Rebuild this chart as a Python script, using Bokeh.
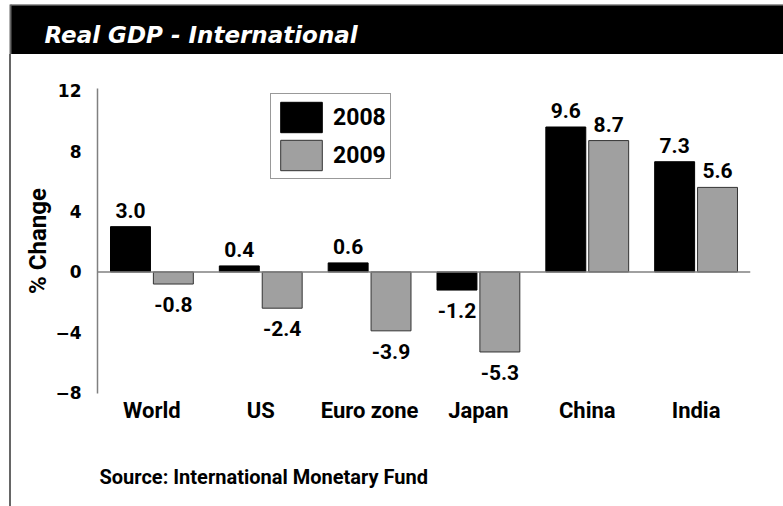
from bokeh.plotting import figure
from bokeh.layouts import column, row
from bokeh.models import (ColumnDataSource, FactorRange, Range1d, FixedTicker, Legend,
                          LegendItem, LabelSet, Span, Div)
from bokeh.transform import dodge
from bokeh.embed import file_html
from bokeh.resources import INLINE
from bokeh.core.properties import value

# ---------------- data ----------------
regions = ["World", "US", "Euro zone", "Japan", "China", "India"]
gdp_2008 = [3.0, 0.4, 0.6, -1.2, 9.6, 7.3]
gdp_2009 = [-0.8, -2.4, -3.9, -5.3, 8.7, 5.6]
series_names = ["2008", "2009"]
y_ticks = [-8, -4, 0, 4, 8, 12]
title_text = "Real GDP - International"
source_text = "Source: International Monetary Fund"
y_label = "% Change"

# ---------------- style ----------------
BLACK = "#000000"
GREY = "#a0a0a0"
AXIS_GREY = "#808080"
FRAME_GREY = "#666666"
LABEL_FONT = "Roboto"
TITLE_FONT = "DejaVu Sans"
TICK_FONT = "DejaVu Sans"
BAR_W = 0.367
OFF = 0.197


def blank(width, height, xr, yr):
    f = figure(width=width, height=height, x_range=xr, y_range=yr, title=None,
               output_backend="svg", toolbar_location=None, min_border=0,
               x_axis_location=None, y_axis_location=None)
    f.xgrid.grid_line_color = None
    f.ygrid.grid_line_color = None
    f.outline_line_color = None
    f.background_fill_color = "white"
    f.border_fill_color = "white"
    return f


# ---------------- header bar ----------------
header = blank(783, 54, Range1d(0, 783), Range1d(54, 0))
header.quad(left=[10], right=[783], top=[3.5], bottom=[5.5], fill_color="#9a9a9a", line_color=None)
header.quad(left=[10], right=[783], top=[5], bottom=[54], fill_color=BLACK, line_color=None)
header.quad(left=[9], right=[11], top=[4], bottom=[54], fill_color=FRAME_GREY, line_color=None)
header.text(x=[44], y=[34], text=[title_text], text_font=value(TITLE_FONT),
            text_font_style="bold italic", text_font_size="23px", text_color="white",
            text_align="left", text_baseline="middle")

# ---------------- left frame line ----------------
strip = Div(text="", width=2, height=452, margin=(0, 0, 0, 9),
            styles={"background-color": FRAME_GREY})

# ---------------- main chart ----------------
p = figure(x_range=FactorRange(factors=regions, range_padding=0),
           y_range=Range1d(-8.05, 12.15), title=None,
           width=772, height=386, output_backend="svg", toolbar_location=None,
           min_border_left=86, min_border_right=33, min_border_top=34, min_border_bottom=47)

src = ColumnDataSource(dict(region=regions, y08=gdp_2008, y09=gdp_2009))

r08 = p.vbar(x=dodge("region", -OFF, range=p.x_range), top="y08", bottom=0, width=BAR_W,
             source=src, fill_color=BLACK, line_color=BLACK, line_width=1)
r09 = p.vbar(x=dodge("region", OFF, range=p.x_range), top="y09", bottom=0, width=BAR_W,
             source=src, fill_color=GREY, line_color="#333333", line_width=1)


def add_labels(vals, off):
    pos = dict(region=[], y=[], t=[])
    neg = dict(region=[], y=[], t=[])
    for reg, v in zip(regions, vals):
        d = pos if v >= 0 else neg
        d["region"].append(reg)
        d["y"].append(v)
        d["t"].append(f"{v:.1f}")
    for d, yo, base in ((pos, 9, "alphabetic"), (neg, -13, "top")):
        ls = LabelSet(x=dodge("region", off, range=p.x_range), y="y", text="t",
                      source=ColumnDataSource(d), y_offset=yo, text_align="center",
                      text_baseline=base, text_font=value(LABEL_FONT),
                      text_font_style="bold", text_font_size="21px", text_color=BLACK)
        p.add_layout(ls)


add_labels(gdp_2008, -OFF)
add_labels(gdp_2009, OFF)

p.add_layout(Span(location=0, dimension="width", line_color=AXIS_GREY, line_width=1.5))

p.xgrid.grid_line_color = None
p.ygrid.grid_line_color = None
p.outline_line_color = None

p.yaxis.ticker = FixedTicker(ticks=y_ticks)
p.yaxis.major_tick_line_color = None
p.yaxis.minor_tick_line_color = None
p.yaxis.axis_line_color = AXIS_GREY
p.yaxis.axis_line_width = 1.5
p.yaxis.major_label_text_font = TICK_FONT
p.yaxis.major_label_text_font_style = "bold"
p.yaxis.major_label_text_font_size = "17px"
p.yaxis.major_label_text_color = BLACK
p.yaxis.major_label_standoff = 10
p.yaxis.axis_label = y_label
p.yaxis.axis_label_text_font = LABEL_FONT
p.yaxis.axis_label_text_font_style = "bold"
p.yaxis.axis_label_text_font_size = "24px"
p.yaxis.axis_label_text_color = BLACK
p.yaxis.axis_label_standoff = 0

p.xaxis.axis_line_color = None
p.xaxis.major_tick_line_color = None
p.xaxis.minor_tick_line_color = None
p.xaxis.major_label_text_font = LABEL_FONT
p.xaxis.major_label_text_font_style = "bold"
p.xaxis.major_label_text_font_size = "22px"
p.xaxis.major_label_text_color = BLACK
p.xaxis.major_label_standoff = -2

legend = Legend(items=[LegendItem(label=series_names[0], renderers=[r08]),
                       LegendItem(label=series_names[1], renderers=[r09])],
                location=(173, 214), margin=0, padding=4, spacing=0,
                glyph_width=52, glyph_height=38, label_standoff=6,
                label_text_font=LABEL_FONT, label_text_font_style="bold",
                label_text_font_size="23px", label_text_color=BLACK,
                border_line_color="#333333", border_line_width=1,
                background_fill_color="white", background_fill_alpha=1)
p.add_layout(legend)

# ---------------- footer (source note) ----------------
# its frame is aligned with the chart frame by the column layout (starts at the y axis)
footer = blank(772, 66, Range1d(0, 653), Range1d(66, 0))
footer.text(x=[2], y=[36], text=[source_text], text_font=value(LABEL_FONT),
            text_font_style="bold", text_font_size="20px", text_color=BLACK,
            text_align="left", text_baseline="middle")

layout = column(header, row(strip, column(p, footer, spacing=0), spacing=0), spacing=0)

open("out.html", "w").write(file_html(layout, INLINE))
